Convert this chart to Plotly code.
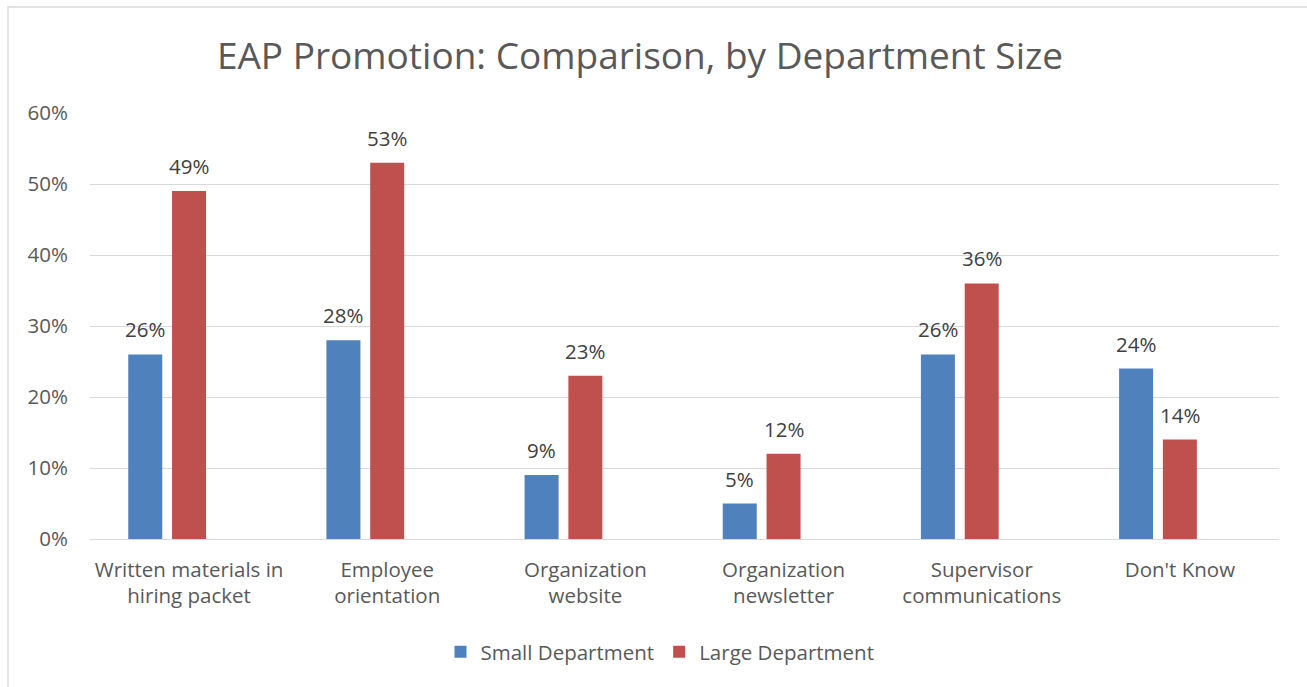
import plotly.graph_objects as go

# Survey results: how the EAP is promoted, split by department size
categories = [
    "Written materials in<br>hiring packet",
    "Employee<br>orientation",
    "Organization<br>website",
    "Organization<br>newsletter",
    "Supervisor<br>communications",
    "Don't Know",
]
small_dept = [0.26, 0.28, 0.09, 0.05, 0.26, 0.24]
large_dept = [0.49, 0.53, 0.23, 0.12, 0.36, 0.14]
y_ticks = [0, 0.1, 0.2, 0.3, 0.4, 0.5, 0.6]
y_tick_labels = ["0%", "10%", "20%", "30%", "40%", "50%", "60%"]

FONT = "Open Sans, Calibri, Carlito, sans-serif"
GREY = "#595959"
LABEL = "#404040"
FS = 20.5

W, H = 1307, 687
ML, MR, MT, MB = 90, 28, 113, 148
PW, PH = W - ML - MR, H - MT - MB


def px_x(x):
    return (x - ML) / PW


def px_y(y):
    return (H - MB - y) / PH


bar_w = 0.1716
series = [
    ("Small Department", small_dept, "#4F81BD", -0.307),
    ("Large Department", large_dept, "#C0504D", -0.086),
]

fig = go.Figure()
annotations = []
for name, vals, color, off in series:
    fig.add_trace(go.Bar(
        name=name, x=categories, y=vals,
        width=bar_w, offset=off,
        marker=dict(color=color, line=dict(width=0)),
    ))
    # value labels sit a little above each bar top
    for i, v in enumerate(vals):
        annotations.append(dict(
            x=i + off + bar_w / 2, y=v, xref="x", yref="y",
            text=f"{v:.0%}", showarrow=False,
            yanchor="bottom", yshift=9,
            font=dict(family=FONT, size=FS, color=LABEL),
        ))

fig.update_layout(
    width=W, height=H,
    margin=dict(l=ML, r=MR, t=MT, b=MB, autoexpand=False),
    paper_bgcolor="white", plot_bgcolor="white",
    barmode="overlay",
    font=dict(family=FONT, size=FS, color=GREY),
    title=dict(
        text="EAP Promotion: Comparison, by Department Size",
        x=px_x(640), xanchor="center", xref="paper",
        y=1 - 56 / H, yanchor="middle", yref="container",
        font=dict(family=FONT, size=37, color=GREY),
    ),
    xaxis=dict(
        showline=True, linecolor="#D9D9D9", linewidth=1,
        showgrid=False, ticks="", tickfont=dict(size=FS, color=GREY),
        ticklabelstandoff=12,
    ),
    yaxis=dict(
        range=[0, 0.6], tickvals=y_ticks, ticktext=y_tick_labels,
        showgrid=True, gridcolor="#D9D9D9", gridwidth=1,
        zeroline=False, showline=False, ticks="",
        tickfont=dict(size=FS, color=GREY), ticklabelstandoff=21,
    ),
    legend=dict(
        orientation="h", x=px_x(660), xanchor="center",
        y=px_y(652), yanchor="middle",
        font=dict(size=FS, color=GREY),
        itemwidth=30, traceorder="normal",
    ),
    annotations=annotations,
    shapes=[dict(
        type="rect", xref="paper", yref="paper",
        x0=px_x(8), x1=px_x(1320), y0=px_y(700), y1=px_y(7),
        line=dict(color="#D9D9D9", width=1.3), fillcolor="rgba(0,0,0,0)",
        layer="below",
    )],
)

fig.write_html("out.html")
